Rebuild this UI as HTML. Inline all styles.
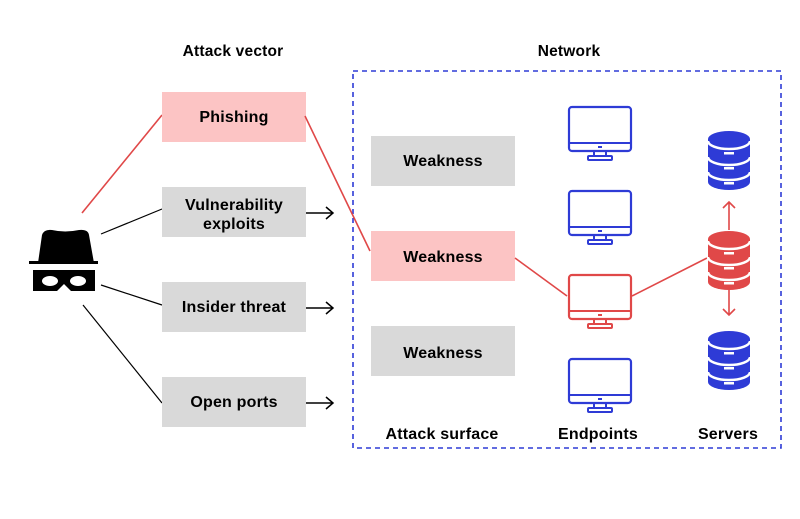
<!DOCTYPE html>
<html><head><style>
body{margin:0;background:#fff;}
svg{display:block;font-family:"Liberation Sans",Arial,sans-serif;font-weight:bold;}
</style></head><body>
<svg width="800" height="519" viewBox="0 0 800 519" xmlns="http://www.w3.org/2000/svg">
<defs>
<g id="mon">
<rect x="1" y="1" width="62" height="44" rx="3" fill="#fff" stroke-width="2.2"/>
<line x1="1" y1="37" x2="63" y2="37" stroke-width="2"/>
<rect x="30" y="40" width="4" height="2" stroke="none"/>
<path d="M26 45 V50 M38 45 V50" stroke-width="2"/>
<rect x="20" y="50" width="24" height="4" rx="1" fill="none" stroke-width="2"/>
</g>
<g id="db">
<path d="M0 8 A21 8 0 0 1 42 8 V51 A21 8 0 0 1 0 51 Z"/>
<g stroke="#fff" stroke-width="2.5" fill="none">
<path d="M0 10 A21 8 0 0 0 42 10"/>
<path d="M0 26 A21 8 0 0 0 42 26"/>
<path d="M0 41 A21 8 0 0 0 42 41"/>
</g>
<rect x="16" y="21" width="10" height="2.5" fill="#fff"/>
<rect x="16" y="36" width="10" height="2.5" fill="#fff"/>
<rect x="16" y="51" width="10" height="2.5" fill="#fff"/>
</g>
</defs>
<g font-size="15.5" letter-spacing="0.2">
<text x="233" y="56" text-anchor="middle">Attack vector</text>
<text x="569" y="56" text-anchor="middle">Network</text>
</g>
<rect x="353" y="71" width="428" height="377" fill="none" stroke="#2e3bd6" stroke-width="1.6" stroke-dasharray="5,4"/>
<!-- hacker -->
<path d="M38 263 L42 235 Q44 229 52 230 Q65 233 79 230 Q88 229 89 235 L94 263 Z" fill="#000"/>
<rect x="29" y="261" width="69" height="3" fill="#000"/>
<path d="M33 270 H95 V291 H71 L64 284 L57 291 H33 Z" fill="#000"/>
<ellipse cx="50" cy="281" rx="8" ry="5" fill="#fff"/>
<ellipse cx="78" cy="281" rx="8" ry="5" fill="#fff"/>
<!-- lines -->
<line x1="82" y1="213" x2="162" y2="115" stroke="#e04848" stroke-width="1.6"/>
<line x1="101" y1="234" x2="162" y2="209" stroke="#000" stroke-width="1.2"/>
<line x1="101" y1="285" x2="162" y2="305" stroke="#000" stroke-width="1.2"/>
<line x1="83" y1="305" x2="162" y2="403" stroke="#000" stroke-width="1.2"/>
<!-- boxes -->
<rect x="162" y="92" width="144" height="50" fill="#fcc4c4"/>
<rect x="162" y="187" width="144" height="50" fill="#d9d9d9"/>
<rect x="162" y="282" width="144" height="50" fill="#d9d9d9"/>
<rect x="162" y="377" width="144" height="50" fill="#d9d9d9"/>
<g font-size="16" text-anchor="middle" letter-spacing="0.2">
<text x="234" y="122">Phishing</text>
<text x="234" y="210">Vulnerability</text>
<text x="234" y="229">exploits</text>
<text x="234" y="312">Insider threat</text>
<text x="234" y="407">Open ports</text>
</g>
<g stroke="#000" stroke-width="1.5" fill="none">
<path d="M306 213 H333 M326 207 L333 213 L326 219"/>
<path d="M306 308 H333 M326 302 L333 308 L326 314"/>
<path d="M306 403 H333 M326 397 L333 403 L326 409"/>
</g>
<rect x="371" y="136" width="144" height="50" fill="#d9d9d9"/>
<rect x="371" y="231" width="144" height="50" fill="#fcc4c4"/>
<rect x="371" y="326" width="144" height="50" fill="#d9d9d9"/>
<g font-size="16" text-anchor="middle" letter-spacing="0.2">
<text x="443" y="166">Weakness</text>
<text x="443" y="262">Weakness</text>
<text x="443" y="358">Weakness</text>
</g>
<g stroke="#e04848" stroke-width="1.6">
<line x1="305" y1="116" x2="370" y2="251"/>
<line x1="515" y1="258" x2="567" y2="296"/>
<line x1="632" y1="296" x2="707" y2="258"/>
</g>
<g stroke="#2e3bd6" fill="#2e3bd6"><use href="#mon" x="568" y="106"/><use href="#mon" x="568" y="190"/><use href="#mon" x="568" y="358"/></g>
<g stroke="#e04848" fill="#e04848"><use href="#mon" x="568" y="274"/></g>
<g fill="#2e3bd6"><use href="#db" x="708" y="131"/><use href="#db" x="708" y="331"/></g>
<g fill="#e04848"><use href="#db" x="708" y="231"/></g>
<g stroke="#e04848" stroke-width="1.6" fill="none">
<path d="M729 230 V202 M723 208 L729 202 L735 208"/>
<path d="M729 290 V315 M723 309 L729 315 L735 309"/>
</g>
<g font-size="16" text-anchor="middle" letter-spacing="0.2">
<text x="442" y="439">Attack surface</text>
<text x="598" y="439">Endpoints</text>
<text x="728" y="439">Servers</text>
</g>
</svg>
</body></html>
